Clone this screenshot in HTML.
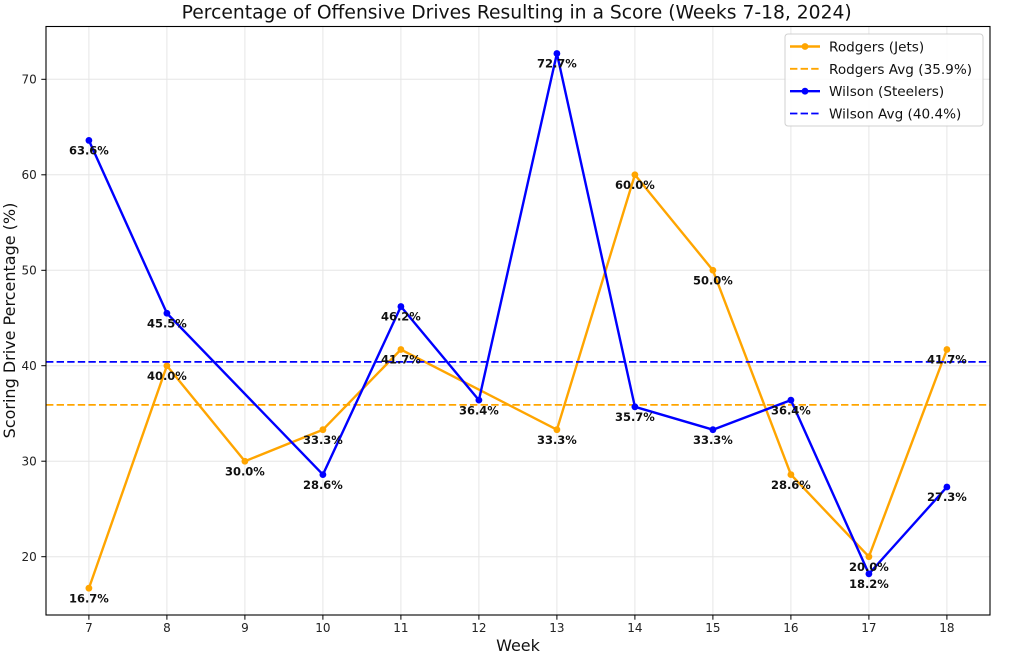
<!DOCTYPE html>
<html><head><meta charset="utf-8"><style>
html,body{margin:0;padding:0;background:#fff;}
svg{display:block;font-family:"DejaVu Sans","Liberation Sans",sans-serif;}
</style></head><body>
<svg width="1024" height="656" viewBox="0 0 1024 656" xmlns="http://www.w3.org/2000/svg">
<rect width="1024" height="656" fill="#fff"/>
<!-- grid -->
<g stroke="#e6e6e6" stroke-width="1">
<line x1="88.9" y1="26.5" x2="88.9" y2="615"/><line x1="166.9" y1="26.5" x2="166.9" y2="615"/><line x1="244.9" y1="26.5" x2="244.9" y2="615"/><line x1="322.9" y1="26.5" x2="322.9" y2="615"/><line x1="400.9" y1="26.5" x2="400.9" y2="615"/><line x1="478.9" y1="26.5" x2="478.9" y2="615"/><line x1="556.9" y1="26.5" x2="556.9" y2="615"/><line x1="634.9" y1="26.5" x2="634.9" y2="615"/><line x1="712.9" y1="26.5" x2="712.9" y2="615"/><line x1="790.9" y1="26.5" x2="790.9" y2="615"/><line x1="868.9" y1="26.5" x2="868.9" y2="615"/><line x1="946.9" y1="26.5" x2="946.9" y2="615"/>
<line x1="46" y1="556.7" x2="990" y2="556.7"/><line x1="46" y1="461.2" x2="990" y2="461.2"/><line x1="46" y1="365.7" x2="990" y2="365.7"/><line x1="46" y1="270.3" x2="990" y2="270.3"/><line x1="46" y1="174.8" x2="990" y2="174.8"/><line x1="46" y1="79.3" x2="990" y2="79.3"/>
</g>
<!-- Rodgers -->
<polyline fill="none" stroke="#FFA500" stroke-width="2.4" stroke-linejoin="round" points="88.9,588.21 166.9,365.74 244.9,461.22 322.9,429.71 400.9,349.51 556.9,429.71 634.9,174.78 712.9,270.26 790.9,474.59 868.9,556.70 946.9,349.51"/>
<g fill="#FFA500">
<circle cx="88.9" cy="588.21" r="3.4"/><circle cx="166.9" cy="365.74" r="3.4"/><circle cx="244.9" cy="461.22" r="3.4"/><circle cx="322.9" cy="429.71" r="3.4"/><circle cx="400.9" cy="349.51" r="3.4"/><circle cx="556.9" cy="429.71" r="3.4"/><circle cx="634.9" cy="174.78" r="3.4"/><circle cx="712.9" cy="270.26" r="3.4"/><circle cx="790.9" cy="474.59" r="3.4"/><circle cx="868.9" cy="556.70" r="3.4"/><circle cx="946.9" cy="349.51" r="3.4"/>
</g>
<line x1="46" y1="404.9" x2="990" y2="404.9" stroke="#FFA500" stroke-width="1.8" stroke-dasharray="7.4,3.2"/>
<!-- Wilson -->
<polyline fill="none" stroke="#0000FF" stroke-width="2.4" stroke-linejoin="round" points="88.9,140.41 166.9,313.23 322.9,474.59 400.9,306.54 478.9,400.11 556.9,53.52 634.9,406.80 712.9,429.71 790.9,400.11 868.9,573.89 946.9,487.0"/>
<g fill="#0000FF">
<circle cx="88.9" cy="140.41" r="3.4"/><circle cx="166.9" cy="313.23" r="3.4"/><circle cx="322.9" cy="474.59" r="3.4"/><circle cx="400.9" cy="306.54" r="3.4"/><circle cx="478.9" cy="400.11" r="3.4"/><circle cx="556.9" cy="53.52" r="3.4"/><circle cx="634.9" cy="406.80" r="3.4"/><circle cx="712.9" cy="429.71" r="3.4"/><circle cx="790.9" cy="400.11" r="3.4"/><circle cx="868.9" cy="573.89" r="3.4"/><circle cx="946.9" cy="487.0" r="3.4"/>
</g>
<line x1="46" y1="361.9" x2="990" y2="361.9" stroke="#0000FF" stroke-width="1.8" stroke-dasharray="7.4,3.2"/>
<!-- data labels -->
<g font-size="11.5" font-weight="bold" fill="#111" text-anchor="middle">
<text x="88.9" y="602.4">16.7%</text><text x="166.9" y="379.9">40.0%</text><text x="244.9" y="475.4">30.0%</text><text x="322.9" y="443.9">33.3%</text><text x="400.9" y="363.7">41.7%</text><text x="556.9" y="443.9">33.3%</text><text x="634.9" y="189.0">60.0%</text><text x="712.9" y="284.5">50.0%</text><text x="790.9" y="488.8">28.6%</text><text x="868.9" y="570.9">20.0%</text><text x="946.9" y="363.7">41.7%</text>
<text x="88.9" y="154.6">63.6%</text><text x="166.9" y="327.4">45.5%</text><text x="322.9" y="488.8">28.6%</text><text x="400.9" y="320.7">46.2%</text><text x="478.9" y="414.3">36.4%</text><text x="556.9" y="67.7">72.7%</text><text x="634.9" y="421.0">35.7%</text><text x="712.9" y="443.9">33.3%</text><text x="790.9" y="414.3">36.4%</text><text x="868.9" y="588.1">18.2%</text><text x="946.9" y="501.2">27.3%</text>
</g>
<!-- frame -->
<rect x="46" y="26.5" width="944" height="588.5" fill="none" stroke="#000" stroke-width="1.1"/>
<!-- ticks -->
<g stroke="#000" stroke-width="1">
<line x1="88.9" y1="615" x2="88.9" y2="619.7"/><line x1="166.9" y1="615" x2="166.9" y2="619.7"/><line x1="244.9" y1="615" x2="244.9" y2="619.7"/><line x1="322.9" y1="615" x2="322.9" y2="619.7"/><line x1="400.9" y1="615" x2="400.9" y2="619.7"/><line x1="478.9" y1="615" x2="478.9" y2="619.7"/><line x1="556.9" y1="615" x2="556.9" y2="619.7"/><line x1="634.9" y1="615" x2="634.9" y2="619.7"/><line x1="712.9" y1="615" x2="712.9" y2="619.7"/><line x1="790.9" y1="615" x2="790.9" y2="619.7"/><line x1="868.9" y1="615" x2="868.9" y2="619.7"/><line x1="946.9" y1="615" x2="946.9" y2="619.7"/>
<line x1="41.3" y1="556.7" x2="46" y2="556.7"/><line x1="41.3" y1="461.2" x2="46" y2="461.2"/><line x1="41.3" y1="365.7" x2="46" y2="365.7"/><line x1="41.3" y1="270.3" x2="46" y2="270.3"/><line x1="41.3" y1="174.8" x2="46" y2="174.8"/><line x1="41.3" y1="79.3" x2="46" y2="79.3"/>
</g>
<g font-size="12" fill="#222" text-anchor="middle">
<text x="88.9" y="632">7</text><text x="166.9" y="632">8</text><text x="244.9" y="632">9</text><text x="322.9" y="632">10</text><text x="400.9" y="632">11</text><text x="478.9" y="632">12</text><text x="556.9" y="632">13</text><text x="634.9" y="632">14</text><text x="712.9" y="632">15</text><text x="790.9" y="632">16</text><text x="868.9" y="632">17</text><text x="946.9" y="632">18</text>
</g>
<g font-size="12" fill="#222" text-anchor="end">
<text x="36.8" y="561.1">20</text><text x="36.8" y="465.6">30</text><text x="36.8" y="370.1">40</text><text x="36.8" y="274.7">50</text><text x="36.8" y="179.2">60</text><text x="36.8" y="83.7">70</text>
</g>
<!-- axis labels & title -->
<text x="518" y="651" font-size="16" fill="#111" text-anchor="middle">Week</text>
<text transform="translate(15,320.5) rotate(-90)" font-size="16" fill="#111" text-anchor="middle">Scoring Drive Percentage (%)</text>
<text x="181.7" y="18.5" font-size="18.5" fill="#111" textLength="670" lengthAdjust="spacingAndGlyphs">Percentage of Offensive Drives Resulting in a Score (Weeks 7-18, 2024)</text>
<!-- legend -->
<rect x="785" y="34" width="198" height="92" rx="3" fill="#fff" fill-opacity="0.85" stroke="#d0d0d0" stroke-width="1"/>
<line x1="790" y1="46.5" x2="820" y2="46.5" stroke="#FFA500" stroke-width="2.4"/><circle cx="805" cy="46.5" r="3.4" fill="#FFA500"/>
<line x1="790" y1="68.8" x2="820" y2="68.8" stroke="#FFA500" stroke-width="1.8" stroke-dasharray="7.4,3.2"/>
<line x1="790" y1="91.2" x2="820" y2="91.2" stroke="#0000FF" stroke-width="2.4"/><circle cx="805" cy="91.2" r="3.4" fill="#0000FF"/>
<line x1="790" y1="113.5" x2="820" y2="113.5" stroke="#0000FF" stroke-width="1.8" stroke-dasharray="7.4,3.2"/>
<g font-size="13.6" fill="#111">
<text x="829" y="51.5">Rodgers (Jets)</text>
<text x="829" y="73.8">Rodgers Avg (35.9%)</text>
<text x="829" y="96.2">Wilson (Steelers)</text>
<text x="829" y="118.5">Wilson Avg (40.4%)</text>
</g>
</svg>
</body></html>
